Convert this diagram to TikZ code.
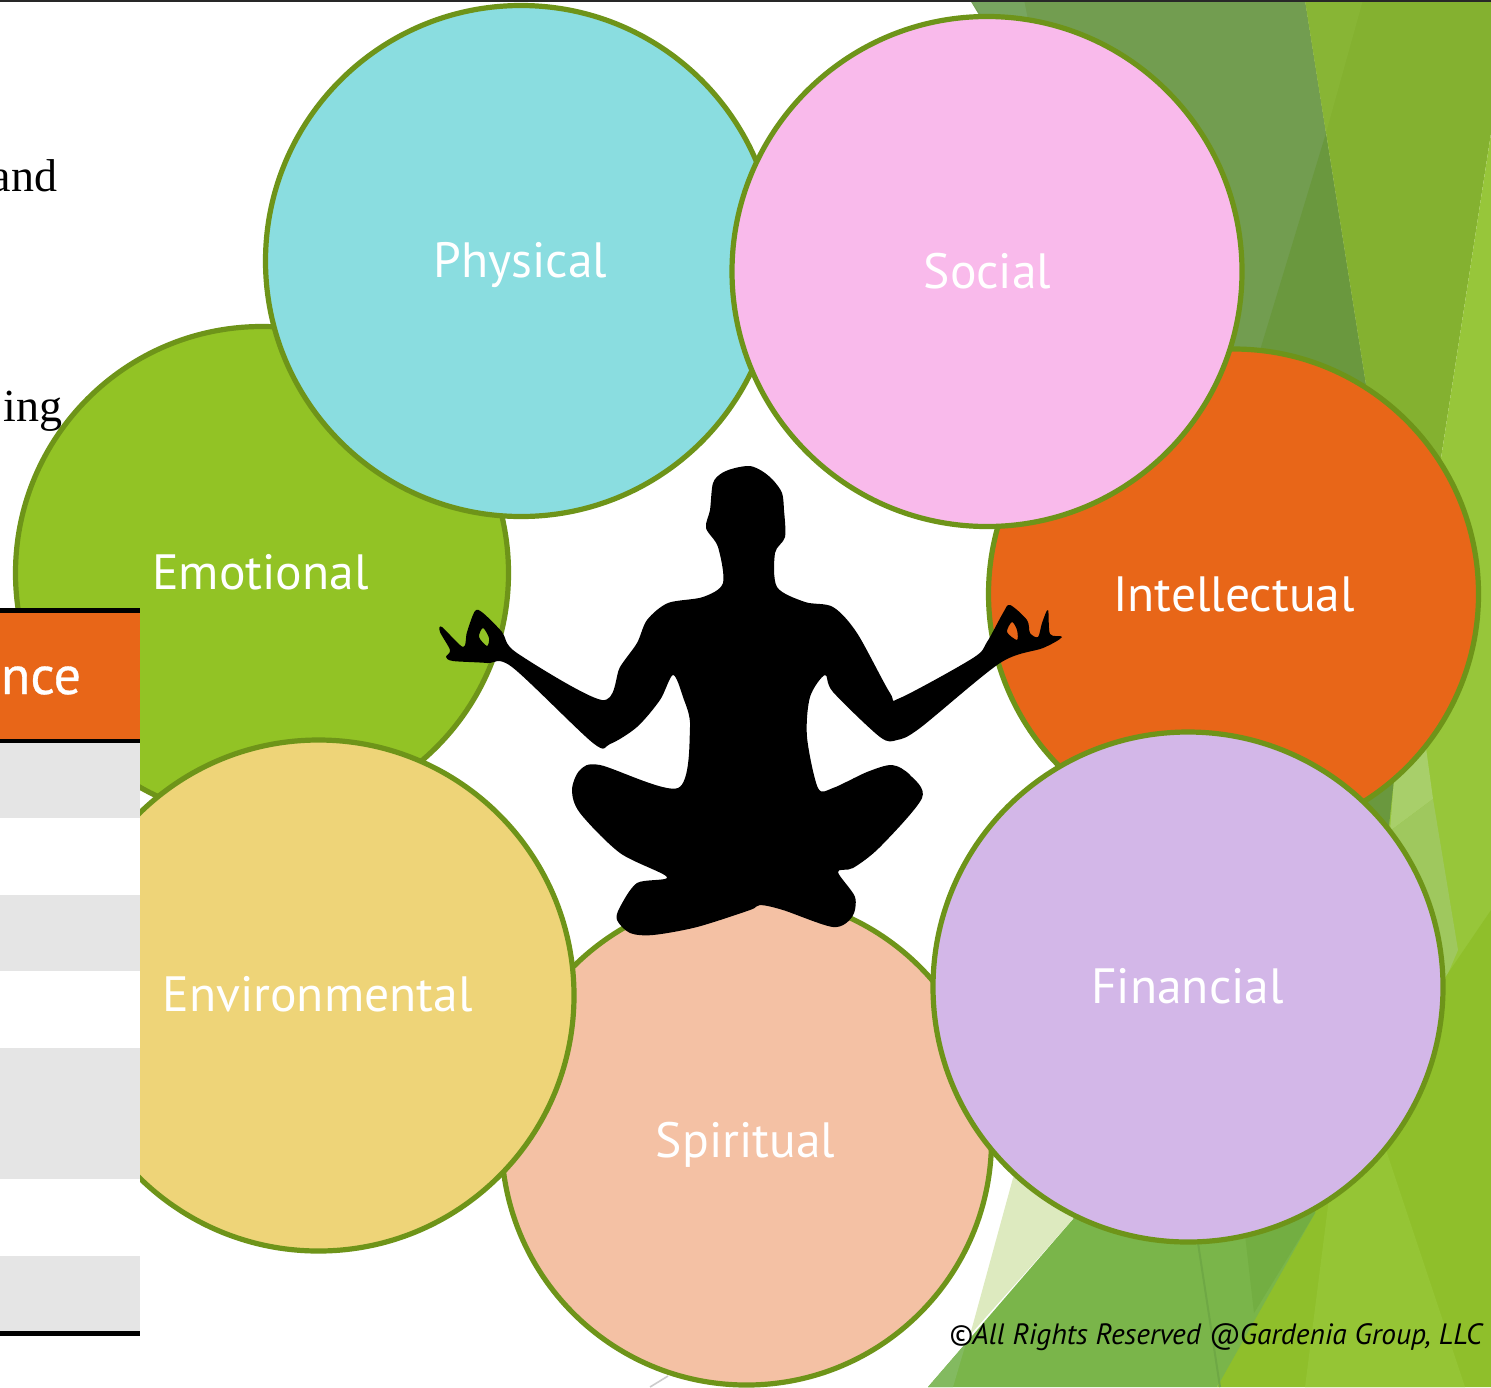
\documentclass[tikz,border=0pt]{standalone}
\usepackage{fontspec}
\setmainfont{Liberation Serif}
\newfontfamily\lblfont{PT Sans}
\tikzset{
  x=0.5pt,y=-0.5pt,
  bubble/.style={circle,draw=ringgreen,line width=2.6pt,inner sep=0pt,outer sep=0pt,text=white,
    font=\lblfont\fontsize{24.8}{29}\selectfont,text height=20pt,text depth=3pt},
  bodytext/.style={inner sep=0pt,outer sep=0pt,font=\fontsize{23}{27}\selectfont,text=black,anchor=base east},
}
\definecolor{ringgreen}{HTML}{6E9419}
\definecolor{cPhys}{HTML}{8ADDE0}
\definecolor{cSoc}{HTML}{F9BAEB}
\definecolor{cEmo}{HTML}{92C325}
\definecolor{cInt}{HTML}{E86618}
\definecolor{cEnv}{HTML}{EED478}
\definecolor{cSpi}{HTML}{F4C1A4}
\definecolor{cFin}{HTML}{D3B7E8}
\begin{document}
\begin{tikzpicture}
\useasboundingbox (0,0) rectangle (1491,1387);
\clip (0,0) rectangle (1491,1387);
\fill[white] (0,0) rectangle (1491,1387);
% background facets
\fill[fill={rgb,255:red,114;green,157;blue,80}] (970,0)--(1305,0)--(1366,385)--(1200,420)--(1000,50)--cycle;
\fill[fill={rgb,255:red,120;green,165;blue,96}] (970,0)--(1024,0)--(1028,20)--(985,20)--cycle;
\fill[fill={rgb,255:red,106;green,152;blue,62}] (1326,133)--(1366,385)--(1300,420)--(1240,420)--(1261,347)--cycle;
\fill[fill={rgb,255:red,132;green,177;blue,48}] (1305,0)--(1491,0)--(1491,133)--(1441,458)--(1400,600)--(1366,385)--cycle;
\fill[fill={rgb,255:red,136;green,181;blue,53}] (1305,0)--(1363,0)--(1326,133)--cycle;
\fill[fill={rgb,255:red,151;green,198;blue,58}] (1491,133)--(1491,1000)--(1380,1000)--(1380,700)--(1400,600)--(1441,458)--cycle;
\fill[fill={rgb,255:red,168;green,207;blue,106}] (1394,779)--(1426,748)--(1433,799)--(1390,831)--cycle;
\fill[fill={rgb,255:red,159;green,200;blue,94}] (1433,799)--(1458,950)--(1443,985)--(1400,985)--(1390,831)--cycle;
\fill[fill={rgb,255:red,106;green,152;blue,62}] (1364,799)--(1394,779)--(1388,835)--cycle;
\fill[fill={rgb,255:red,143;green,191;blue,43}] (1491,910)--(1440,985)--(1300,1150)--(1300,1213)--(1217,1387)--(1491,1387)--cycle;
\fill[fill={rgb,255:red,149;green,197;blue,53}] (1330,1190)--(1305,1387)--(1465,1387)--(1386,1150)--cycle;
\fill[fill={rgb,255:red,122;green,181;blue,74}] (928,1387)--(1073,1219)--(1100,1150)--(1320,1150)--(1315,1213)--(1217,1387)--cycle;
\fill[fill={rgb,255:red,115;green,174;blue,66}] (1241,1200)--(1254,1313)--(1315,1213)--(1315,1200)--cycle;
\fill[fill={rgb,255:red,221;green,234;blue,191}] (1013,1178)--(1030,1150)--(1100,1150)--(1073,1219)--(970,1335)--cycle;
\fill[fill={rgb,255:red,131;green,186;blue,96}] (928,1387)--(953,1387)--(966,1343)--cycle;
\draw[line width=1pt,draw={rgb,255:red,111;green,168;blue,69}] (1198,1243)--(1220,1387);
\draw[line width=0.8pt,draw={rgb,255:red,204;green,204;blue,204}] (650,1387)--(668,1376);
\fill[fill={rgb,255:red,40;green,40;blue,40}] (0,0) rectangle (1491,2);
% bubbles
\node[bubble,fill=cEmo,minimum size=246.5pt] (emotional) at (262,573) {};
\node[bubble,fill=cInt,minimum size=245pt] (intellectual) at (1233.5,594) {};
\node[bubble,fill=cSpi,minimum size=245pt] (spiritual) at (746.5,1140) {};
\node[bubble,fill=cPhys,minimum size=255.5pt] (physical) at (521,261) {};
\node[bubble,fill=cSoc,minimum size=255pt] (social) at (987,271.5) {};
\node[bubble,fill=cFin,minimum size=255pt] (financial) at (1188,987) {};
\node[bubble,fill=cEnv,minimum size=255.5pt] (environmental) at (318.5,995.5) {};
% table fragment
\fill[white] (0,609) rectangle (140,1336);
\fill[fill={rgb,255:red,232;green,102;blue,24}] (0,609) rectangle (140,743);
\fill[black] (0,608) rectangle (140,613);
\fill[black] (0,738.5) rectangle (140,743);
\fill[fill={rgb,255:red,229;green,229;blue,229}] (0,743) rectangle (140,818);
\fill[fill={rgb,255:red,229;green,229;blue,229}] (0,895) rectangle (140,971);
\fill[fill={rgb,255:red,229;green,229;blue,229}] (0,1048) rectangle (140,1179);
\fill[fill={rgb,255:red,229;green,229;blue,229}] (0,1256) rectangle (140,1331);
\fill[black] (0,1331) rectangle (140,1336);
\node[inner sep=0pt,outer sep=0pt,anchor=base east,text=white,font=\lblfont\addfontfeature{FakeBold=0.6}\fontsize{27}{31}\selectfont] (tablehead) at (81,694) {nce};
% labels
\node[bubble,draw=none,fill=none] (lPhys) at (520.5,260) {Physical};
\node[bubble,draw=none,fill=none] (lSoc) at (987.5,271) {Social};
\node[bubble,draw=none,fill=none] (lEmo) at (260.5,572) {Emotional};
\node[bubble,draw=none,fill=none] (lInt) at (1234,594) {Intellectual};
\node[bubble,draw=none,fill=none] (lEnv) at (317.5,994) {Environmental};
\node[bubble,draw=none,fill=none] (lSpi) at (745.5,1140) {Spiritual};
\node[bubble,draw=none,fill=none] (lFin) at (1187.5,986) {Financial};
% cut-off body text
\node[bodytext] (bodyand) at (57,191) {and};
\node[bodytext] (bodying) at (62,421) {ing};
% meditating silhouette
\fill[black,even odd rule]
 plot[smooth cycle,tension=0.5] coordinates {
 (750,466)(735,468)(722,473)(713,483)(710,510)(706,528)(718,547)(723,583)(703,597)(668,603)(647,620)(637,643)(620,667)(602,700)
 (517,653)(502,632)(483,613)(475,611)(467,632)(463,647)(442,627)(440,632)(450,650)(446,657)(453,661)(487,663)(512,667)
 (593,743)(610,744)(637,727)(660,700)(673,675)(683,697)(690,727)(678,788)(600,765)(580,770)(572,790)(580,813)(620,853)(667,877)
 (637,883)(620,907)(617,920)(630,933)(653,935)(697,927)(750,910)(760,905)
 (783,910)(833,927)(852,917)(855,897)(838,872)(853,868)(880,847)(922,798)(910,775)(892,765)(867,772)(833,788)(818,788)
 (807,737)(810,697)(825,675)(833,692)(880,737)(897,740)(920,728)(1000,663)(1043,648)(1062,637)(1050,634)(1048,610)(1042,623)
 (1038,637)(1030,633)(1027,620)(1010,605)(1003,613)(987,642)(973,658)(900,698)(890,693)(857,633)(833,607)(805,602)(777,587)
 (775,553)(785,537)(784,510)(782,493)(773,480)(762,471)}
 plot[smooth cycle,tension=0.5] coordinates {(483,628)(479,637)(487,646)(489,638)}
 plot[smooth cycle,tension=0.5] coordinates {(1012,622)(1007,632)(1017,640)(1017,630)};
% copyright
\node[inner sep=0pt,outer sep=0pt,anchor=base east,text=black,font=\lblfont\itshape\fontsize{14.7}{17}\selectfont] (copyright) at (1482,1344) {©All Rights Reserved @Gardenia Group, LLC};
\end{tikzpicture}
\end{document}
